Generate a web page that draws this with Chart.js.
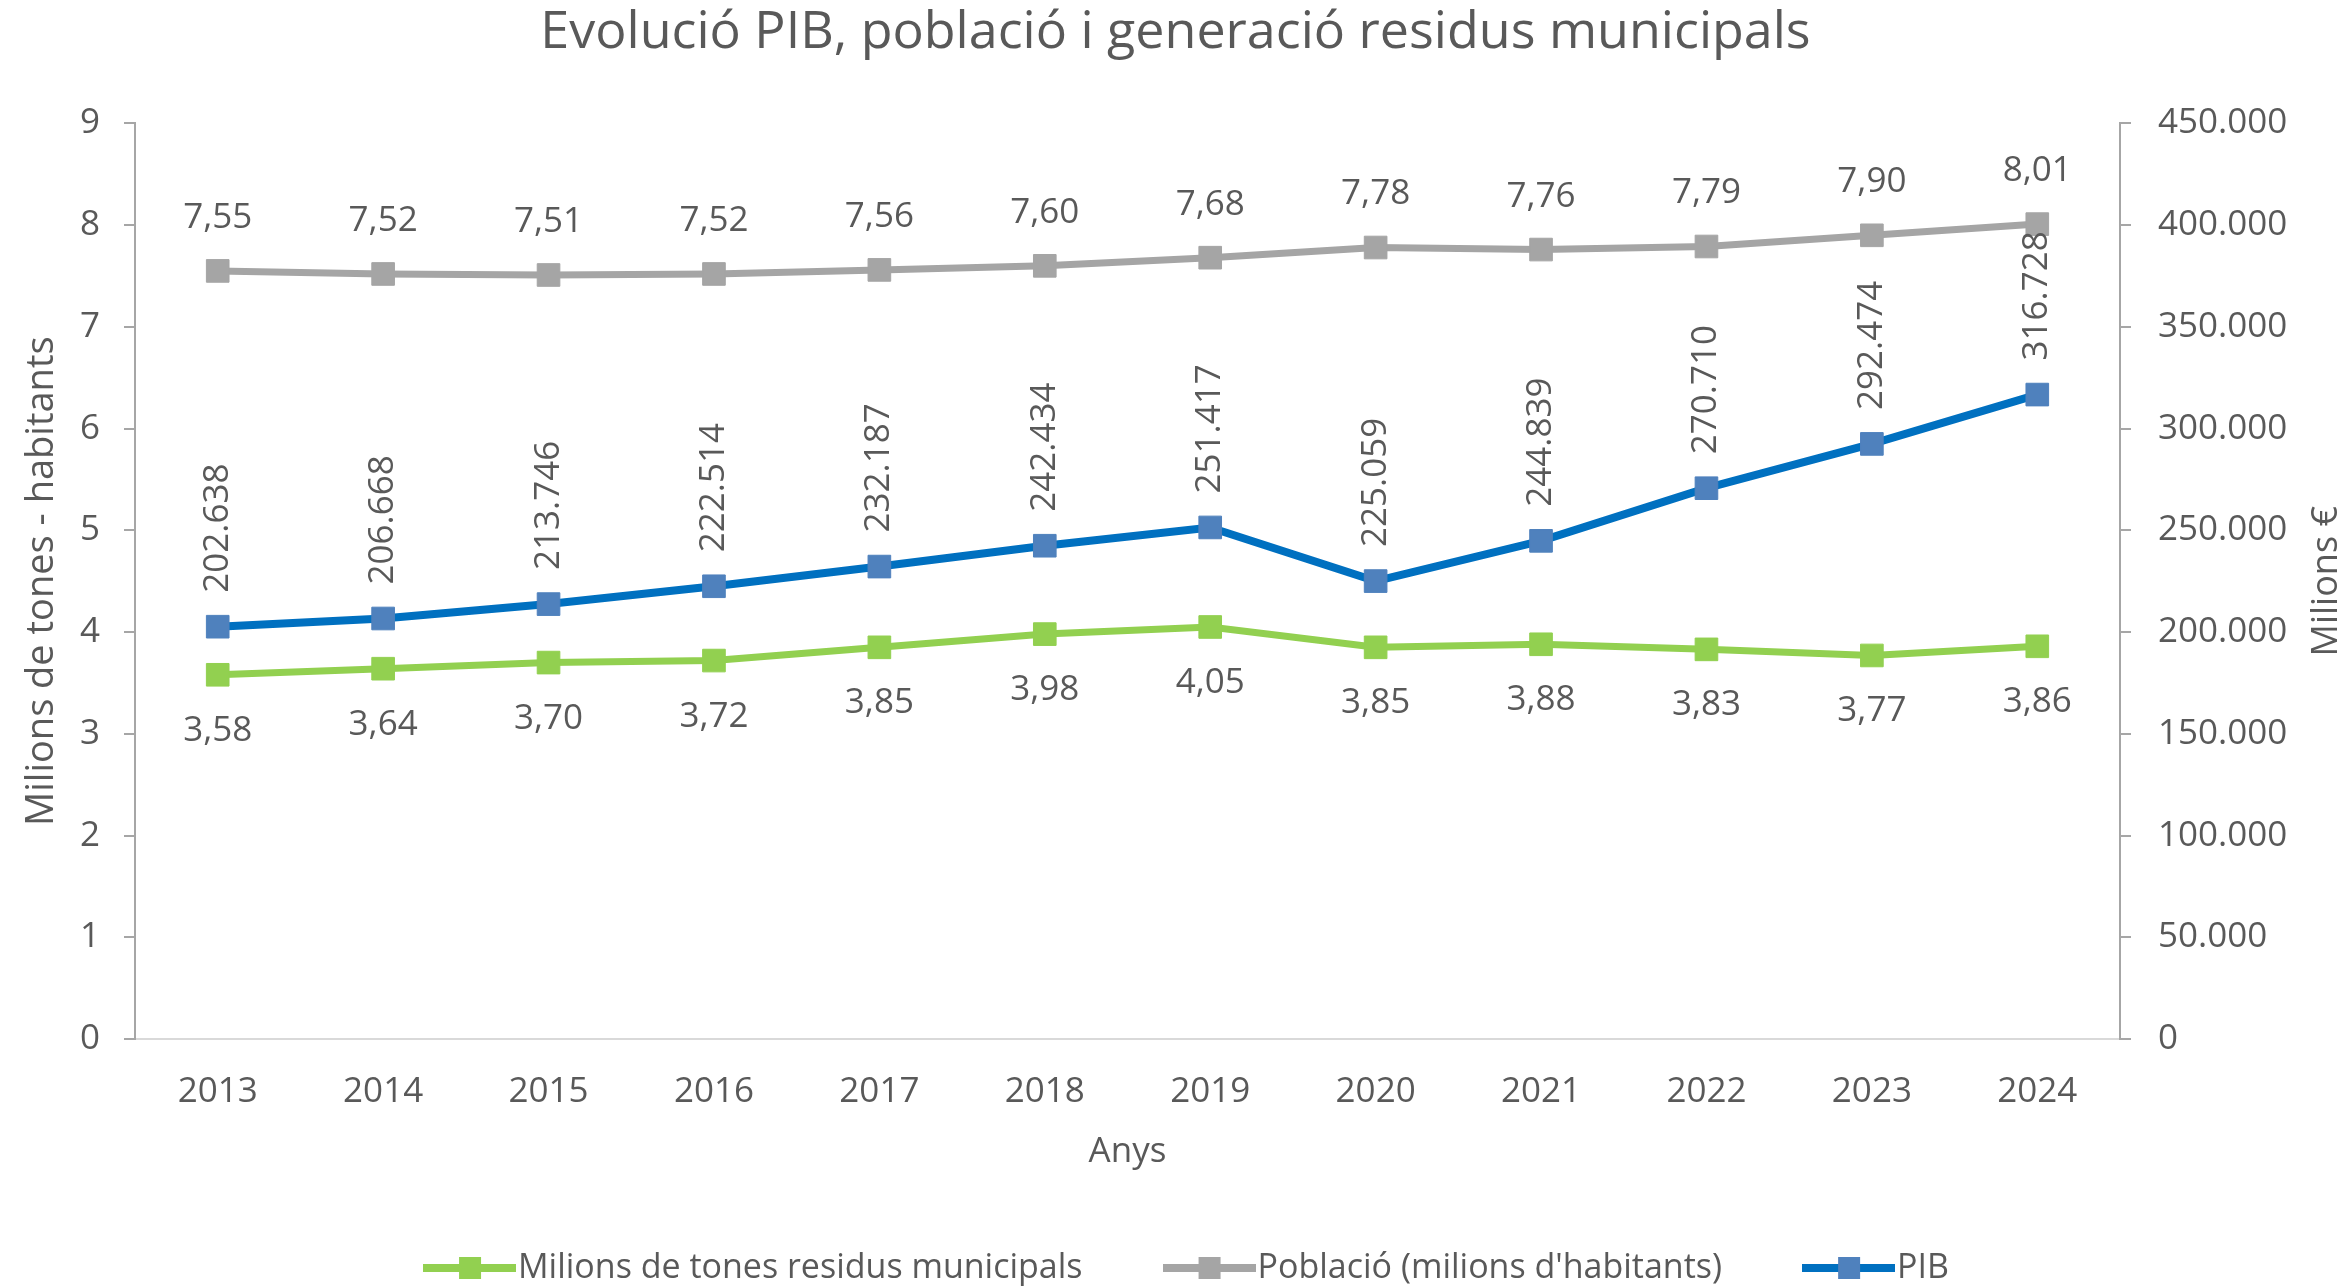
<!DOCTYPE html>
<html>
<head>
<meta charset="utf-8">
<script src="https://cdn.jsdelivr.net/npm/chart.js@4/dist/chart.umd.min.js"></script>
<style>
  html, body { margin: 0; padding: 0; background: #fff; }
  #wrap { width: 2351px; height: 1288px; }
</style>
</head>
<body>
<div id="wrap"><canvas id="chart"></canvas></div>
<script>
const years = ["2013", "2014", "2015", "2016", "2017", "2018", "2019", "2020", "2021", "2022", "2023", "2024"];
const waste = [3.58, 3.64, 3.70, 3.72, 3.85, 3.98, 4.05, 3.85, 3.88, 3.83, 3.77, 3.86];
const population = [7.55, 7.52, 7.51, 7.52, 7.56, 7.60, 7.68, 7.78, 7.76, 7.79, 7.90, 8.01];
const gdp = [202638, 206668, 213746, 222514, 232187, 242434, 251417, 225059, 244839, 270710, 292474, 316728];
const leftMax = 9;
const rightMax = 450000;
const rightStep = 50000;

Chart.defaults.font.family = "'Open Sans'";
Chart.defaults.color = "#595959";

const TEXT = "#595959";
const AXIS = "#A6A6A6";

// catalan style numbers
const dec2 = v => v.toFixed(2).replace(".", ",");
const thousands = v => String(Math.round(v)).replace(/\B(?=(\d{3})+(?!\d))/g, ".");

// legend icon: line with a square marker in the middle
function legendIcon(lineColor, markColor) {
  const c = document.createElement("canvas");
  c.width = 93;
  c.height = 26;
  const g = c.getContext("2d");
  g.fillStyle = lineColor;
  g.fillRect(0, 9, 93, 8);
  g.fillStyle = markColor;
  g.fillRect(36, 2, 22, 22);
  return c;
}

const icons = [
  legendIcon("#92D050", "#92D050"),
  legendIcon("#A5A5A5", "#A5A5A5"),
  legendIcon("#0070C0", "#4F81BD"),
];

const pointLabels = {
  id: "pointLabels",
  afterDatasetsDraw(chart) {
    const ctx = chart.ctx;
    ctx.save();
    ctx.font = "35px 'Open Sans'";
    ctx.fillStyle = TEXT;
    chart.data.datasets.forEach((ds, i) => {
      const meta = chart.getDatasetMeta(i);
      meta.data.forEach((pt, j) => {
        const val = ds.data[j];
        if (ds.labelPlace === "above") {
          ctx.textAlign = "center";
          ctx.textBaseline = "middle";
          ctx.fillText(dec2(val), pt.x, pt.y - 53);
        } else if (ds.labelPlace === "below") {
          ctx.textAlign = "center";
          ctx.textBaseline = "middle";
          ctx.fillText(dec2(val), pt.x, pt.y + 56);
        } else {
          ctx.save();
          ctx.translate(pt.x, pt.y - 34);
          ctx.rotate(-Math.PI / 2);
          ctx.textAlign = "left";
          ctx.textBaseline = "middle";
          ctx.fillText(thousands(val), 0, 0);
          ctx.restore();
        }
      });
    });
    ctx.restore();
  },
};

// right axis title reads bottom to top like the left one
const rightTitle = {
  id: "rightTitle",
  afterDraw(chart) {
    const { ctx, chartArea } = chart;
    const s = chart.scales.y1;
    ctx.save();
    ctx.translate(s.right - 24, (chartArea.top + chartArea.bottom) / 2);
    ctx.rotate(-Math.PI / 2);
    ctx.font = "36px 'Open Sans'";
    ctx.fillStyle = TEXT;
    ctx.textAlign = "center";
    ctx.textBaseline = "middle";
    ctx.fillText("Milions €", 0, 0);
    ctx.restore();
  },
};

// legend sits a bit right of centre in the original
const legendShift = {
  id: "legendShift",
  afterLayout(chart) {
    chart.legend.left += 18;
    chart.legend.right += 18;
  },
};

const ctx = document.getElementById("chart");
const chart = new Chart(ctx, {
  type: "line",
  data: {
    labels: years,
    datasets: [
      {
        label: "Milions de tones residus municipals",
        data: waste,
        yAxisID: "y",
        borderColor: "#92D050",
        backgroundColor: "#92D050",
        borderWidth: 7,
        pointStyle: "rect",
        pointRadius: 16,
        pointBorderWidth: 1,
        pointBackgroundColor: "#92D050",
        pointBorderColor: "#92D050",
        labelPlace: "below",
      },
      {
        label: "Població (milions d'habitants)",
        data: population,
        yAxisID: "y",
        borderColor: "#A5A5A5",
        backgroundColor: "#A5A5A5",
        borderWidth: 7,
        pointStyle: "rect",
        pointRadius: 16,
        pointBorderWidth: 1,
        pointBackgroundColor: "#A5A5A5",
        pointBorderColor: "#A5A5A5",
        labelPlace: "above",
      },
      {
        label: "PIB",
        data: gdp,
        yAxisID: "y1",
        borderColor: "#0070C0",
        backgroundColor: "#4F81BD",
        borderWidth: 8,
        pointStyle: "rect",
        pointRadius: 16,
        pointBorderWidth: 1,
        pointBackgroundColor: "#4F81BD",
        pointBorderColor: "#4F81BD",
        labelPlace: "rotated",
      },
    ],
  },
  options: {
    responsive: true,
    maintainAspectRatio: false,
    animation: false,
    layout: { padding: 0 },
    plugins: {
      title: {
        display: true,
        text: "Evolució PIB, població i generació residus municipals",
        color: TEXT,
        font: { size: 52, weight: "normal" },
        padding: { top: 2, bottom: 59 },
      },
      legend: {
        position: "bottom",
        maxHeight: 132,
        labels: {
          usePointStyle: true,
          pointStyleWidth: 63,
          padding: 95,
          color: TEXT,
          font: { size: 34 },
          generateLabels(chart) {
            const items = Chart.defaults.plugins.legend.labels.generateLabels(chart);
            items.forEach((it, i) => {
              it.pointStyle = icons[i];
            });
            return items;
          },
        },
      },
      tooltip: { enabled: false },
    },
    scales: {
      x: {
        offset: true,
        grid: { display: false },
        border: { color: "#D9D9D9", width: 2 },
        ticks: { padding: 24, font: { size: 35 }, color: TEXT },
        title: {
          display: true,
          text: "Anys",
          color: TEXT,
          font: { size: 35 },
          padding: { top: 0, bottom: -17 },
        },
        afterFit(scale) {
          scale.height = 117;
        },
      },
      y: {
        position: "left",
        min: 0,
        max: leftMax,
        grid: { drawOnChartArea: false, drawTicks: true, tickLength: 11, color: AXIS, lineWidth: 2 },
        border: { color: AXIS, width: 2 },
        ticks: { stepSize: 1, padding: 24, font: { size: 35 }, color: TEXT, callback: v => String(v) },
        title: {
          display: true,
          text: "Milions de tones - habitants",
          color: TEXT,
          font: { size: 38 },
          padding: { top: 19, bottom: 0 },
        },
        afterFit(scale) {
          scale.width = 135;
        },
      },
      y1: {
        position: "right",
        min: 0,
        max: rightMax,
        grid: { drawOnChartArea: false, drawTicks: true, tickLength: 11, color: AXIS, lineWidth: 2 },
        border: { color: AXIS, width: 2 },
        ticks: { stepSize: rightStep, padding: 27, font: { size: 35 }, color: TEXT, callback: v => thousands(v) },
        afterFit(scale) {
          scale.width = 231;
        },
      },
    },
  },
  plugins: [pointLabels, rightTitle, legendShift],
});
</script>
</body>
</html>
